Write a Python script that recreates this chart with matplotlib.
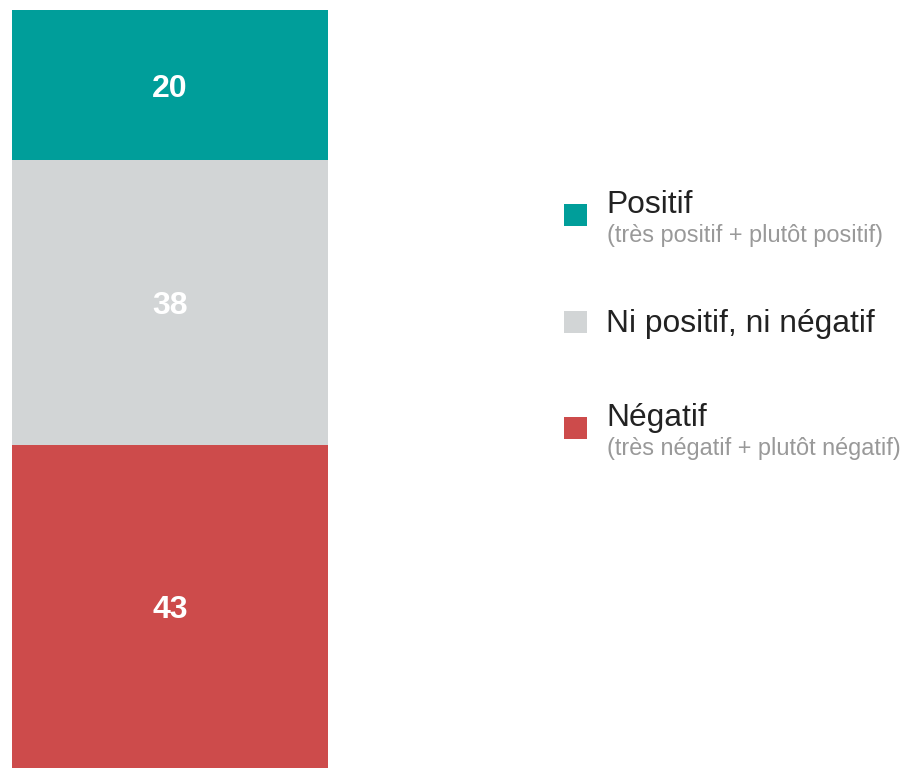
import matplotlib.pyplot as plt
from matplotlib.patches import Rectangle

plt.rcParams['font.family'] = ['Liberation Sans', 'DejaVu Sans']

# stacked bar, bottom to top
categories = ['Négatif', 'Ni positif, ni négatif', 'Positif']
values = [43, 38, 20]
colors = ['#CD4B4B', '#D2D5D6', '#009E9A']
label_colors = ['white', 'white', 'white']

# legend, top to bottom
legend_titles = ['Positif', 'Ni positif, ni négatif', 'Négatif']
legend_subtitles = ['(très positif + plutôt positif)', '', '(très négatif + plutôt négatif)']
legend_colors = ['#009E9A', '#D2D5D6', '#CD4B4B']

W, H = 910, 768
fig = plt.figure(figsize=(W / 100, H / 100), dpi=100)
ax = fig.add_axes([12 / W, 0, 316 / W, 758 / H])

bottom = 0
for val, col, lc in zip(values, colors, label_colors):
    ax.bar(0, val, bottom=bottom, width=1, color=col, linewidth=0)
    ax.text(0, bottom + val / 2, str(val), ha='center', va='center_baseline',
            color=lc, fontsize=23, fontweight='bold')
    bottom += val

ax.set_xlim(-0.5, 0.5)
ax.set_ylim(0, sum(values))
ax.axis('off')

# legend drawn by hand (title + small grey subtitle)
sq_y = [215, 322, 428]
for y, title, sub, col in zip(sq_y, legend_titles, legend_subtitles, legend_colors):
    fig.add_artist(Rectangle((564 / W, 1 - (y + 11) / H), 23 / W, 22 / H,
                             transform=fig.transFigure, color=col, linewidth=0))
    if sub:
        fig.text(606 / W, 1 - (y - 2) / H, title, fontsize=22.9, color='#222222',
                 va='baseline', ha='left')
        fig.text(607 / W, 1 - (y + 27) / H, sub, fontsize=16.9, color='#999999',
                 va='baseline', ha='left')
    else:
        fig.text(606 / W, 1 - (y + 10) / H, title, fontsize=22.9, color='#222222',
                 va='baseline', ha='left')

fig.savefig('out.png', dpi=100)
